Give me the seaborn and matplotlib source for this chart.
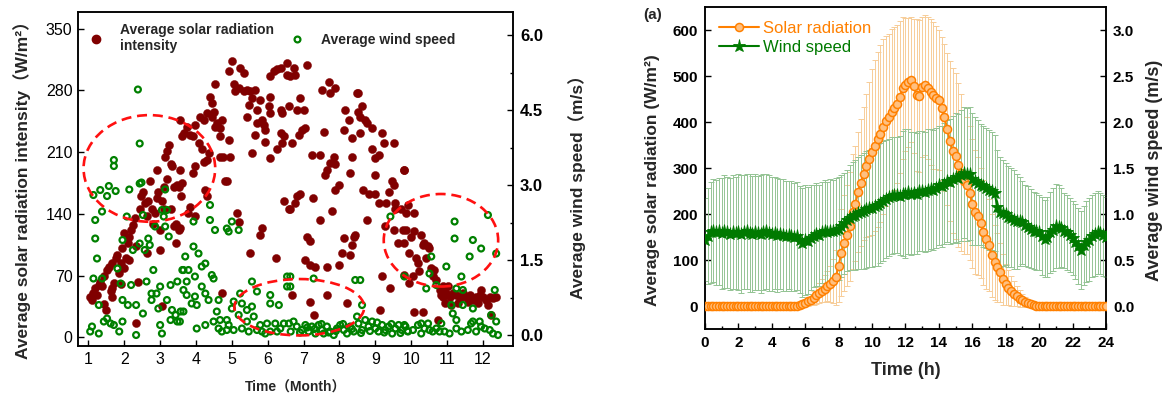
import numpy as np
import pandas as pd
import matplotlib
matplotlib.use('Agg')
import matplotlib.pyplot as plt
import seaborn as sns
from matplotlib.patches import Ellipse
from matplotlib.lines import Line2D
from matplotlib.ticker import MultipleLocator

# ---------------- data: left panel (daily averages, x in months) ----------------
solar_pts = [
 (1.05,46),(1.10,42),(1.14,50),(1.19,56),(1.24,48),(1.29,59),(1.33,63),(1.38,58),(1.43,69),(1.43,38),
 (1.48,31),(1.52,76),(1.57,80),(1.62,52),(1.67,84),(1.67,56),(1.67,46),(1.71,62),(1.76,90),(1.81,93),
 (1.86,73),(1.90,84),(1.90,60),(1.95,101),(2.00,78),(2.00,118),(2.05,90),(2.10,107),(2.14,114),(2.14,88),
 (2.19,122),(2.24,127),(2.29,135),(2.33,103),(2.33,16),(2.38,63),(2.43,145),(2.48,160),(2.52,165),(2.57,152),
 (2.62,137),(2.62,96),(2.67,154),(2.71,177),(2.76,145),(2.81,129),(2.86,141),(2.90,158),(2.90,190),(2.95,165),
 (3.00,99),(3.00,122),(3.05,35),(3.05,155),(3.10,171),(3.10,145),(3.14,205),(3.19,211),(3.20,180),(3.24,218),
 (3.29,196),(3.29,145),(3.33,194),(3.38,126),(3.38,170),(3.43,107),(3.43,129),(3.48,173),(3.52,171),(3.52,122),
 (3.57,160),(3.62,228),(3.67,232),
 (3.55,247),(3.74,239),(3.83,230),(3.97,241),(3.93,228),(4.07,220),(4.16,213),(4.21,199),(4.30,201),(4.35,209),
 (3.55,190),(3.60,175),(3.93,186),(3.97,194),(4.25,167),(4.30,160),(3.83,148),(3.79,141),(3.97,137),(3.55,124),
 (4.11,250),(4.21,247),(4.30,254),(4.44,250),(4.49,256),(4.53,239),(4.58,243),(4.67,237),(4.72,247),(4.67,228),
 (4.67,205),(4.76,205),(4.95,205),(4.91,224),(4.81,177),(4.39,273),(4.44,266),(4.53,287),(4.91,302),(5.00,313),
 (5.05,287),(5.09,279),(5.21,283),(5.33,300),(5.33,279),(5.42,281),(5.51,279),(5.65,281),(5.56,271),(5.47,264),
 (5.42,250),(5.70,258),(5.79,269),(5.84,247),(5.89,241),(5.93,235),(6.07,273),(6.07,296),(6.17,302),(6.26,304),
 (6.36,305),(6.54,311),(6.54,298),(6.03,262),(6.07,254),(6.36,258),(6.40,254),(6.59,262),(6.36,232),(6.45,228),
 (6.40,220),(6.26,213),(5.65,230),(5.56,209),(6.07,203),(5.93,222),(5.70,243),(5.24,305),(4.86,177),(6.45,154),
 (6.59,145),(5.14,141),(5.19,131),(5.84,124),(5.79,116),(5.51,95),(6.22,90),(4.72,50),
 (6.72,305),(6.77,298),(7.09,309),(6.63,296),(6.91,271),(7.00,258),(6.81,258),(6.95,235),(7.05,237),(6.86,230),
 (6.67,220),(7.56,233),(7.51,281),(7.70,290),(7.74,277),(7.88,283),(8.16,258),(8.26,247),(8.12,235),(8.35,226),
 (8.53,277),(8.49,277),(8.63,262),(8.53,256),(8.58,250),(8.72,247),(8.77,243),(8.91,237),(8.58,232),(7.23,207),
 (7.47,207),(7.84,205),(7.88,196),(7.74,198),(7.65,190),(7.60,184),(7.98,173),(7.88,167),(8.35,205),(8.30,186),
 (8.91,213),(9.09,207),(9.00,203),(9.19,232),(9.23,220),(9.51,220),(9.47,177),(9.51,173),(9.37,165),(9.00,184),
 (8.67,167),(8.81,163),(8.98,163),(9.09,152),(9.30,152),(9.56,152),(9.56,145),(9.79,190),(6.81,160),(6.91,163),
 (6.77,152),(6.63,145),(7.26,158),(7.79,143),(7.47,133),(8.77,133),(9.28,126),(9.53,122),(9.63,107),(8.44,116),
 (8.40,114),(8.12,112),(8.35,105),(8.07,95),(7.09,114),(7.19,109),(7.05,88),(7.19,82),(7.33,80),(7.65,80),
 (7.98,82),(8.30,93),(6.67,48),(7.65,48),(7.19,40),(8.21,39),(7.28,25),(9.19,69),(9.42,56),(9.14,31),
 (9.81,190),(9.72,145),(9.91,150),(10.09,141),(9.86,141),(9.77,122),(9.86,122),(10.00,114),(10.09,120),(10.28,116),
 (10.37,107),(10.47,103),(10.33,105),(9.81,107),(9.95,95),(10.14,90),(10.19,84),(10.42,90),(10.51,101),(10.56,78),
 (10.65,76),(10.60,69),(9.81,71),(10.05,69),(9.95,61),(10.23,75),(10.70,65),(10.79,54),(10.84,48),(10.88,46),
 (10.98,50),(11.07,46),(11.16,50),(11.26,48),(11.35,44),(11.44,50),(11.53,46),(11.63,48),(11.72,42),(11.81,46),
 (11.91,48),(12.00,46),(12.09,42),(12.19,46),(12.28,44),(12.37,46),(10.93,39),(11.12,37),(11.30,39),(11.58,40),
 (11.86,39),(12.14,37),(12.23,25),(10.88,58),(11.02,58),(11.95,54),(10.09,29),(10.33,29),(10.74,20),
]

wind_pts = [
 (2.38,4.91),(2.43,3.83),(1.71,3.50),(1.71,3.38),(1.14,2.80),(1.33,2.90),(1.57,2.98),(1.76,2.88),(1.52,2.78),(2.14,2.91),
 (2.43,3.03),(2.48,3.05),(3.14,2.91),(1.38,2.47),(1.19,2.30),(2.07,2.37),(2.52,2.40),(3.05,2.50),(3.19,2.50),(3.10,2.37),
 (2.86,2.17),(3.14,2.17),(1.19,1.93),(1.95,1.90),(2.67,1.93),(2.43,1.83),(2.24,1.70),(2.57,1.70),(2.71,1.80),(3.24,1.97),
 (1.24,1.53),(1.14,1.13),(1.38,1.13),(1.81,1.33),(1.90,1.03),(2.19,1.00),(2.62,1.07),(2.81,1.30),(3.00,0.97),(3.29,1.00),
 (3.62,1.30),(3.48,1.07),(1.29,0.60),(1.95,0.70),(2.10,0.60),(2.33,0.60),(2.76,0.83),(2.90,0.83),(2.76,0.70),(3.19,0.70),
 (3.33,0.50),(2.95,0.53),(2.52,0.43),(1.43,0.27),(1.52,0.33),(1.62,0.23),(1.71,0.20),(1.86,0.07),(1.95,0.27),(1.10,0.17),
 (1.05,0.07),(1.29,0.03),(2.33,0.00),(3.00,0.20),(3.05,0.03),(3.29,0.30),(3.48,0.27),(3.43,0.40),(3.57,0.47),
 (4.39,2.60),(4.39,2.30),(3.93,2.27),(4.53,2.10),(4.86,2.13),(5.00,2.27),(4.91,2.07),(5.19,2.10),(3.93,1.77),(3.70,1.57),
 (4.07,1.63),(4.26,1.43),(4.16,1.37),(3.65,1.30),(3.79,1.30),(3.97,1.17),(4.44,1.20),(4.49,1.13),(3.74,1.07),(3.65,0.90),
 (4.16,0.97),(4.26,0.83),(3.74,0.80),(3.97,0.77),(3.88,0.63),(4.02,0.60),(4.35,0.70),(4.63,0.70),(3.65,0.47),(3.55,0.27),
 (4.02,0.13),(4.26,0.20),(4.49,0.27),(4.58,0.47),(4.67,0.30),(4.63,0.13),(4.72,0.07),(4.86,0.10),(4.91,0.20),(5.00,0.53),
 (5.23,0.83),(5.05,0.67),(5.28,0.63),(5.42,0.50),(5.56,0.57),(5.56,1.07),(5.70,0.87),(5.19,0.40),(5.42,0.27),(5.61,0.37),
 (5.28,0.13),(5.79,0.20),(5.98,0.23),(6.07,0.80),(6.07,0.63),(6.31,0.60),(6.21,0.23),(6.35,0.13),(6.54,1.17),(6.54,0.97),
 (6.45,0.23),(6.59,0.23),(5.84,0.07),(5.70,0.10),(5.93,0.03),(6.07,0.07),(6.26,0.07),(6.64,0.07),(5.47,0.07),(5.05,0.10),
 (4.86,0.30),
 (9.42,2.37),(7.28,1.13),(8.44,1.10),(8.58,1.10),(8.63,0.60),(6.63,1.17),(6.63,0.97),(8.49,0.37),(6.72,0.27),
 (6.81,0.17),(6.95,0.10),(7.05,0.20),(7.14,0.07),(7.23,0.17),(7.33,0.03),(7.42,0.20),(7.51,0.10),(7.56,0.03),(7.65,0.17),
 (7.74,0.07),(7.84,0.00),(7.93,0.13),(8.02,0.20),(8.12,0.10),(8.21,0.03),(8.30,0.17),(8.40,0.07),(8.53,0.23),(8.63,0.10),
 (8.72,0.30),(8.81,0.17),(8.91,0.27),(9.00,0.13),(9.09,0.07),(9.19,0.20),(9.28,0.10),(9.37,0.17),(9.47,0.03),(9.56,0.13),
 (9.65,0.20),(9.74,0.10),(9.84,0.17),(6.90,0.05),(7.10,0.15),(7.30,0.12),(7.50,0.22),(7.70,0.05),(7.90,0.08),(8.10,0.22),
 (8.35,0.12),(8.60,0.04),(8.85,0.08),(9.05,0.25),(9.25,0.05),(9.45,0.22),(9.70,0.04),(9.90,0.08),
 (12.14,2.40),(11.21,2.27),(11.21,1.93),(11.72,1.90),(11.95,1.73),(11.63,1.57),(12.37,1.63),(10.56,1.57),(10.98,1.37),(10.51,1.23),
 (11.40,1.17),(9.81,1.17),(10.42,0.93),(10.70,1.00),(11.26,0.93),(11.44,0.90),(12.33,0.90),(11.12,0.60),(11.44,0.60),(11.72,0.53),
 (11.16,0.43),(11.26,0.30),(12.23,0.40),(12.37,0.27),(11.72,0.27),(11.91,0.27),(9.81,0.20),
 (9.91,0.07),(10.05,0.10),(10.19,0.20),(10.28,0.03),(10.37,0.13),(10.47,0.23),(10.60,0.07),(10.70,0.13),(10.84,0.23),(10.93,0.07),
 (11.07,0.03),(11.26,0.13),(11.40,0.07),(11.58,0.10),(11.67,0.23),(11.81,0.07),(12.05,0.13),(12.19,0.10),(12.28,0.03),(12.42,0.00),
 (10.28,0.23),(10.51,0.10),(10.79,0.07),(11.95,0.17),
]

# ---------------- data: right panel (10-min averages over a day) ----------------
solar_mean = ([0]*33 +
 [1,2,4,7,10,14,18,23,28,33,38,43,48,55,62,88,116,137,154,173,205,222,248,268,288,305,320,
  335,348,362,375,390,402,410,422,430,440,455,474,481,486,492,478,458,456,476,481,474,465,
  458,453,448,430,410,385,358,338,326,306,290,272,262,246,222,205,195,181,160,146,132,110,
  95,84,73,58,47,40,33,27,21,16,12,9,6,4,2,1] + [0]*25)
solar_sd = ([0]*33 +
 [2,3,5,8,10,12,15,18,21,25,29,33,40,48,60,80,95,105,110,118,125,125,130,138,145,155,168,
  180,186,190,192,190,185,182,180,177,172,165,155,145,140,136,145,165,165,153,152,155,158,
  160,155,152,155,160,165,174,180,180,178,170,160,150,145,140,135,128,120,115,108,100,90,
  82,75,65,55,45,38,32,28,22,18,15,11,8,6,4,2] + [0]*25)
wind_mean = [0.72,0.76,0.80,0.82,0.80,0.81,0.79,0.81,0.80,0.78,0.80,0.79,0.80,0.78,0.80,0.81,0.79,0.78,
 0.80,0.79,0.78,0.80,0.81,0.79,0.78,0.79,0.77,0.78,0.77,0.76,0.77,0.76,0.75,0.76,0.72,0.69,
 0.72,0.71,0.74,0.76,0.78,0.77,0.80,0.81,0.80,0.82,0.81,0.83,0.84,0.87,0.90,0.93,0.96,0.98,
 0.99,1.01,1.02,1.03,1.05,1.06,1.07,1.09,1.10,1.12,1.14,1.16,1.18,1.20,1.21,1.21,1.20,1.22,
 1.22,1.24,1.22,1.23,1.22,1.25,1.25,1.24,1.26,1.27,1.26,1.28,1.31,1.30,1.33,1.36,1.35,1.38,
 1.40,1.39,1.42,1.45,1.43,1.44,1.38,1.36,1.34,1.32,1.30,1.28,1.26,1.25,1.23,1.08,1.02,1.01,
 1.00,0.97,0.96,0.94,0.92,0.92,0.91,0.88,0.86,0.84,0.82,0.81,0.80,0.76,0.73,0.75,0.80,0.83,
 0.87,0.86,0.85,0.82,0.80,0.77,0.74,0.70,0.65,0.61,0.66,0.70,0.72,0.76,0.78,0.80,0.79,0.77,0.75]
wind_sd = [0.45,0.52,0.55,0.56,0.57,0.58,0.60,0.61,0.60,0.61,0.62,0.61,0.63,0.64,0.62,0.63,0.64,0.63,
 0.63,0.62,0.64,0.63,0.62,0.63,0.62,0.61,0.62,0.60,0.61,0.60,0.59,0.60,0.59,0.59,0.58,0.59,
 0.60,0.58,0.57,0.55,0.56,0.55,0.55,0.56,0.55,0.56,0.56,0.56,0.56,0.55,0.55,0.55,0.57,0.59,
 0.60,0.61,0.62,0.63,0.64,0.64,0.65,0.65,0.66,0.65,0.65,0.64,0.64,0.64,0.63,0.63,0.65,0.68,
 0.70,0.68,0.67,0.66,0.66,0.65,0.65,0.65,0.66,0.65,0.65,0.65,0.65,0.66,0.66,0.66,0.68,0.69,
 0.70,0.70,0.71,0.71,0.72,0.72,0.72,0.70,0.68,0.66,0.66,0.65,0.65,0.64,0.63,0.62,0.60,0.58,
 0.55,0.55,0.54,0.54,0.52,0.48,0.45,0.44,0.44,0.43,0.42,0.42,0.41,0.42,0.42,0.43,0.44,0.45,
 0.46,0.45,0.43,0.41,0.41,0.40,0.40,0.41,0.41,0.42,0.43,0.44,0.45,0.45,0.45,0.45,0.44,0.44,0.44]
hours = np.arange(len(solar_mean)) / 6.0

left_yticks = [0, 70, 140, 210, 280, 350]
left_y2ticks = [0.0, 1.5, 3.0, 4.5, 6.0]
month_ticks = list(range(1, 13))
hour_ticks = list(range(0, 25, 2))
right_yticks = [0, 100, 200, 300, 400, 500, 600]
right_y2ticks = [0.0, 0.5, 1.0, 1.5, 2.0, 2.5, 3.0]

# ---------------- style ----------------
sns.set_theme(style='ticks')
plt.rcParams['font.family'] = ['Liberation Sans', 'Noto Sans CJK SC', 'DejaVu Sans']
plt.rcParams['axes.linewidth'] = 1.1
plt.rcParams['axes.edgecolor'] = 'black'
plt.rcParams['xtick.color'] = 'black'
plt.rcParams['ytick.color'] = 'black'

RED = '#800000'
GREEN = '#008000'
ORANGE = '#ff8000'
DKGREEN = '#007a00'
fig = plt.figure(figsize=(11.66, 3.99), dpi=100)

# ================= left panel =================
sp = pd.DataFrame(solar_pts, columns=['month', 'value'])
wp = pd.DataFrame(wind_pts, columns=['month', 'value'])

ax1 = fig.add_axes([0.0669, 0.1328, 0.3731, 0.8371])
ax2 = ax1.twinx()
sns.scatterplot(data=sp, x='month', y='value', ax=ax1, color=RED, s=34,
                edgecolor=RED, linewidth=0.3, legend=False)
sns.scatterplot(data=wp, x='month', y='value', ax=ax2, color=GREEN, s=18,
                linewidth=1.6, legend=False)
coll = ax2.collections[-1]
coll.set_facecolor('none')
coll.set_edgecolor(GREEN)

ax1.set_xlim(0.71, 12.84)
ax1.set_ylim(-10, 369)
ax2.set_ylim(-0.22, 6.46)
ax1.set_xticks(month_ticks)
ax1.set_yticks(left_yticks)
ax2.set_yticks(left_y2ticks)
ax2.yaxis.set_minor_locator(MultipleLocator(0.75))
ax1.tick_params(axis='both', direction='in', length=4, width=1.0, labelsize=11.5, pad=4)
ax2.tick_params(axis='y', which='major', direction='in', length=4, width=1.0, labelsize=12, pad=5)
ax2.tick_params(axis='y', which='minor', direction='in', length=2, width=1.0)
ax2.set_yticklabels(['%.1f' % v for v in left_y2ticks], fontweight='bold')

ax1.set_xlabel('Time（Month）', fontsize=10, fontweight='bold')
ax1.xaxis.set_label_coords(0.5, -0.105)
ax1.set_ylabel('Average solar radiation intensity（W/m²）', fontsize=12.5, fontweight='bold')
ax1.yaxis.set_label_coords(-0.108, 0.48)
ax2.set_ylabel('Average wind speed（m/s）', fontsize=12.5, fontweight='bold')
ax2.yaxis.set_label_coords(1.126, 0.49)

for (cx, cy, w, h) in [(2.70, 191.5, 3.67, 121), (6.88, 34, 3.62, 64), (10.83, 110, 3.19, 105)]:
    e = Ellipse((cx, cy), width=w, height=h, fill=False, edgecolor='#ff1010',
                linewidth=1.9, linestyle=(0, (3.8, 2.2)), transform=ax1.transData, zorder=6)
    ax2.add_patch(e)
ax2.set_ylim(-0.22, 6.46)

h_sol = Line2D([], [], ls='none', marker='o', ms=6, color=RED)
h_wind = Line2D([], [], ls='none', marker='o', ms=4.2, mfc='none', mec=GREEN, mew=1.6)
leg1 = ax2.legend([h_sol, h_wind], ['Average solar radiation\nintensity', 'Average wind speed'],
                  loc='upper left', bbox_to_anchor=(0.0, 1.0), borderaxespad=0, borderpad=0.8,
                  ncol=2, frameon=False, handlelength=1.0, handletextpad=1.2, columnspacing=1.2,
                  prop={'size': 10, 'weight': 'bold'})

# ================= right panel =================
axR1 = fig.add_axes([0.6046, 0.1754, 0.3439, 0.8070])
axR2 = axR1.twinx()
axR3 = axR1.twinx()
axR4 = axR1.twinx()

axR1.errorbar(hours, solar_mean, yerr=solar_sd, fmt='none', ecolor='#f7cd98',
              elinewidth=0.7, capsize=2.2, capthick=0.7)
axR2.errorbar(hours, wind_mean, yerr=wind_sd, fmt='none', ecolor='#94c494',
              elinewidth=0.7, capsize=2.2, capthick=0.7)
sns.lineplot(x=hours, y=solar_mean, ax=axR3, color=ORANGE, linewidth=1.5, marker='o',
             markersize=5.8, markerfacecolor='#ffc080', markeredgecolor=ORANGE,
             markeredgewidth=1.1, errorbar=None)
sns.lineplot(x=hours, y=wind_mean, ax=axR4, color=DKGREEN, linewidth=1.5, marker='*',
             markersize=9.5, markerfacecolor=DKGREEN, markeredgecolor=DKGREEN,
             markeredgewidth=0.6, errorbar=None)

axR1.set_xlim(0, 24)
for a in (axR1, axR3):
    a.set_ylim(-50, 650)
for a in (axR2, axR4):
    a.set_ylim(-0.25, 3.25)
axR3.axis('off')
axR4.axis('off')

axR1.set_xticks(hour_ticks)
axR1.xaxis.set_minor_locator(MultipleLocator(1))
axR1.set_yticks(right_yticks)
axR2.set_yticks(right_y2ticks)
axR1.tick_params(axis='both', which='major', direction='in', length=4, width=1.0, labelsize=11, pad=5)
axR1.tick_params(axis='x', which='minor', direction='in', length=2, width=1.0)
axR2.tick_params(axis='y', which='major', direction='in', length=4, width=1.0, labelsize=11, pad=5)
axR1.set_xticklabels([str(v) for v in hour_ticks], fontweight='bold')
axR1.set_yticklabels([str(v) for v in right_yticks], fontweight='bold')
axR2.set_yticklabels(['%.1f' % v for v in right_y2ticks], fontweight='bold')

axR1.set_xlabel('Time (h)', fontsize=13, fontweight='bold')
axR1.xaxis.set_label_coords(0.5, -0.102)
axR1.set_ylabel('Average solar radiation (W/m²)', fontsize=12.5, fontweight='bold')
axR1.yaxis.set_label_coords(-0.112, 0.463)
axR2.set_ylabel('Average wind speed (m/s)', fontsize=13, fontweight='bold')
axR2.yaxis.set_label_coords(1.10, 0.494)

l_sol = axR3.lines[0]
l_wind = axR4.lines[0]
leg2 = axR4.legend([l_sol, l_wind], ['Solar radiation', 'Wind speed'], loc='upper left',
                   bbox_to_anchor=(0.0, 1.0), borderaxespad=0, borderpad=0.85, frameon=False,
                   handlelength=2.4, handletextpad=0.25, labelspacing=0.2, prop={'size': 12})
leg2.get_texts()[0].set_color(ORANGE)
leg2.get_texts()[1].set_color(DKGREEN)

fig.text(653 / 1166, 1 - 15 / 399, '(a)', fontsize=11, fontweight='bold', ha='center', va='center')

fig.savefig('out.png', dpi=100)
